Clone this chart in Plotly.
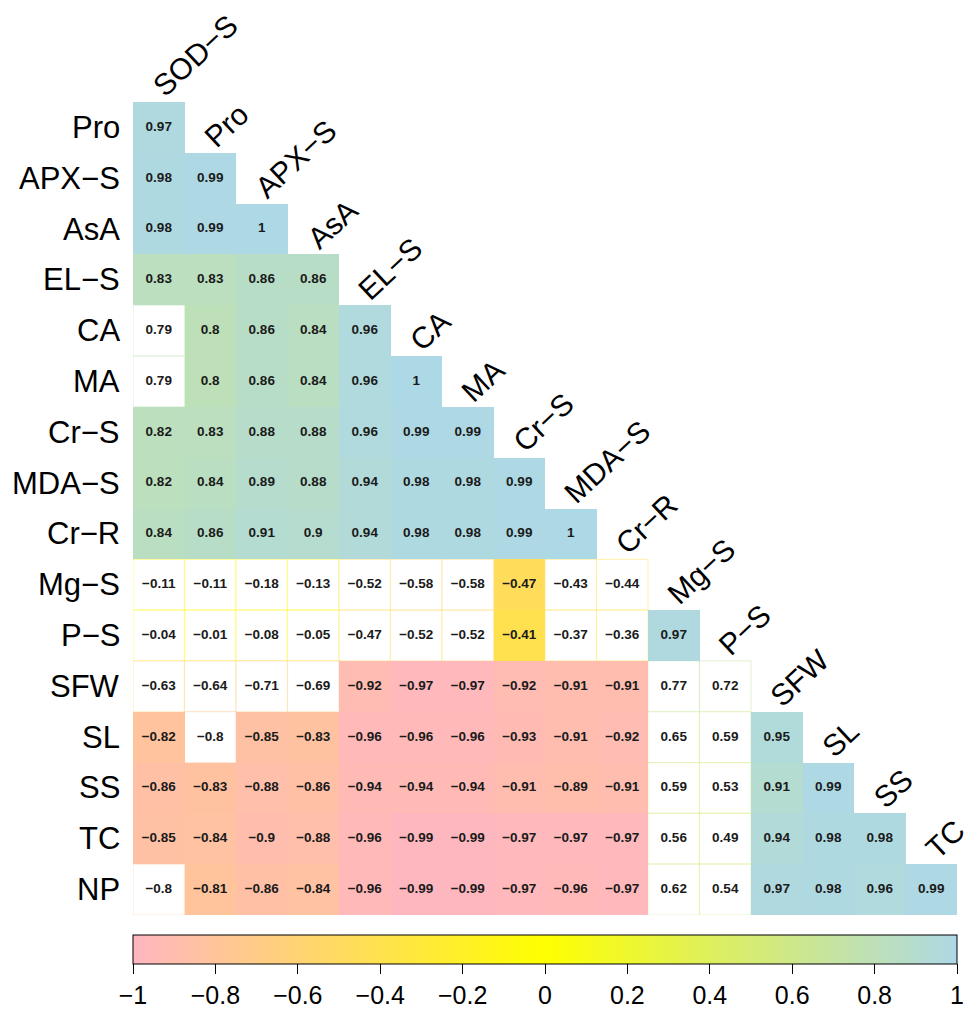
import plotly.graph_objects as go

# Variable names (lower-triangular correlation matrix)
variables = ["SOD−S", "Pro", "APX−S", "AsA", "EL−S", "CA", "MA", "Cr−S", "MDA−S",
             "Cr−R", "Mg−S", "P−S", "SFW", "SL", "SS", "TC", "NP"]
row_names = variables[1:]
col_names = variables[:-1]

# Correlation coefficients, one list per row (row i holds columns 0..i)
r_pro = [0.97]
r_apx = [0.98, 0.99]
r_asa = [0.98, 0.99, 1]
r_el = [0.83, 0.83, 0.86, 0.86]
r_ca = [0.79, 0.8, 0.86, 0.84, 0.96]
r_ma = [0.79, 0.8, 0.86, 0.84, 0.96, 1]
r_crs = [0.82, 0.83, 0.88, 0.88, 0.96, 0.99, 0.99]
r_mda = [0.82, 0.84, 0.89, 0.88, 0.94, 0.98, 0.98, 0.99]
r_crr = [0.84, 0.86, 0.91, 0.9, 0.94, 0.98, 0.98, 0.99, 1]
r_mg = [-0.11, -0.11, -0.18, -0.13, -0.52, -0.58, -0.58, -0.47, -0.43, -0.44]
r_p = [-0.04, -0.01, -0.08, -0.05, -0.47, -0.52, -0.52, -0.41, -0.37, -0.36, 0.97]
r_sfw = [-0.63, -0.64, -0.71, -0.69, -0.92, -0.97, -0.97, -0.92, -0.91, -0.91, 0.77, 0.72]
r_sl = [-0.82, -0.8, -0.85, -0.83, -0.96, -0.96, -0.96, -0.93, -0.91, -0.92, 0.65, 0.59, 0.95]
r_ss = [-0.86, -0.83, -0.88, -0.86, -0.94, -0.94, -0.94, -0.91, -0.89, -0.91, 0.59, 0.53, 0.91, 0.99]
r_tc = [-0.85, -0.84, -0.9, -0.88, -0.96, -0.99, -0.99, -0.97, -0.97, -0.97, 0.56, 0.49, 0.94, 0.98, 0.98]
r_np = [-0.8, -0.81, -0.86, -0.84, -0.96, -0.99, -0.99, -0.97, -0.96, -0.97, 0.62, 0.54, 0.97, 0.98, 0.96, 0.99]
corr_rows = [r_pro, r_apx, r_asa, r_el, r_ca, r_ma, r_crs, r_mda, r_crr,
             r_mg, r_p, r_sfw, r_sl, r_ss, r_tc, r_np]

# Non-significant cells (row, col) left blank
blank_cells = [(4, 0), (5, 0)]
blank_cells += [(9, c) for c in [0, 1, 2, 3, 4, 5, 6, 8, 9]]
blank_cells += [(10, c) for c in [0, 1, 2, 3, 4, 5, 6, 8, 9]]
blank_cells += [(11, c) for c in [0, 1, 2, 3, 10, 11]]
blank_cells += [(12, c) for c in [1, 10, 11]]
blank_cells += [(13, c) for c in [10, 11]]
blank_cells += [(14, c) for c in [10, 11]]
blank_cells += [(15, c) for c in [0, 10, 11]]

# Colour bar ticks
tick_vals = [-1, -0.8, -0.6, -0.4, -0.2, 0, 0.2, 0.4, 0.6, 0.8, 1]
tick_text = [f"{v:g}".replace("-", "−") for v in tick_vals]

colorscale = [[0.0, "#FFB6C1"], [0.5, "#FFFF00"], [1.0, "#ADD8E6"]]
FONT = "Liberation Sans, Arial, Helvetica, sans-serif"

n = len(row_names)
blank_set = set(blank_cells)


def scale_color(v, alpha=1.0):
    """Interpolate the colour scale at correlation v in [-1, 1]."""
    t = (v + 1) / 2
    for (t0, c0), (t1, c1) in zip(colorscale[:-1], colorscale[1:]):
        if t0 <= t <= t1:
            f = (t - t0) / (t1 - t0) if t1 > t0 else 0
            a = [int(c0[k:k + 2], 16) for k in (1, 3, 5)]
            b = [int(c1[k:k + 2], 16) for k in (1, 3, 5)]
            rgb = [round(a[k] + (b[k] - a[k]) * f) for k in range(3)]
            return f"rgba({rgb[0]},{rgb[1]},{rgb[2]},{alpha})"
    return colorscale[-1][1]


# Heatmap matrix: significant cells only
z = [[None] * n for _ in range(n)]
for i, row in enumerate(corr_rows):
    for j, v in enumerate(row):
        if (i, j) not in blank_set:
            z[i][j] = v

fig = go.Figure()
fig.add_trace(go.Heatmap(
    z=z, x=list(range(n)), y=list(range(n)),
    colorscale=colorscale, zmin=-1, zmax=1,
    hoverongaps=False, xgap=0, ygap=0,
    colorbar=dict(
        orientation="h", x=0.5, xanchor="center",
        y=-0.0244, yanchor="top",
        len=824, lenmode="pixels", thickness=29, thicknessmode="pixels",
        xpad=0, ypad=0,
        outlinewidth=1, outlinecolor="black",
        ticks="outside", ticklen=10, tickwidth=1, tickcolor="black",
        tickvals=tick_vals, ticktext=tick_text,
        tickfont=dict(family=FONT, size=25, color="black"),
    ),
))

# Blank cells: white fill with a faint outline in the scale colour
shapes = []
for i, row in enumerate(corr_rows):
    for j, v in enumerate(row):
        if (i, j) in blank_set:
            shapes.append(dict(
                type="rect", xref="x", yref="y",
                x0=j - 0.5, x1=j + 0.5, y0=i - 0.5, y1=i + 0.5,
                fillcolor="white", line=dict(color=scale_color(v, 0.42), width=1.2),
                layer="below",
            ))

# Coefficient labels
tx, ty, tt = [], [], []
for i, row in enumerate(corr_rows):
    for j, v in enumerate(row):
        tx.append(j)
        ty.append(i)
        tt.append(f"{v:g}".replace("-", "−"))
fig.add_trace(go.Scatter(
    x=tx, y=ty, text=tt, mode="text",
    textfont=dict(family=FONT, size=13.5, color="#1a1a1a", weight="bold"),
    hoverinfo="skip", showlegend=False,
))

annotations = []
for i, name in enumerate(row_names):
    annotations.append(dict(
        text=name, x=-0.5, y=i, xref="x", yref="y",
        xanchor="right", yanchor="middle", xshift=-11, showarrow=False,
        font=dict(family=FONT, size=31, color="black"),
    ))
for j, name in enumerate(col_names):
    annotations.append(dict(
        text=name, x=j, y=j - 0.5, xref="x", yref="y",
        xanchor="left", yanchor="bottom", textangle=-43,
        xshift=-14, yshift=-2, borderpad=0, showarrow=False,
        font=dict(family=FONT, size=30, color="black"),
    ))

fig.update_layout(
    width=971, height=1022,
    margin=dict(l=133, r=14, t=102, b=100),
    paper_bgcolor="white", plot_bgcolor="white",
    xaxis=dict(range=[-0.5, n - 0.5], visible=False, fixedrange=True),
    yaxis=dict(range=[n - 0.5, -0.5], visible=False, fixedrange=True),
    shapes=shapes, annotations=annotations,
    showlegend=False,
)

fig.write_html("out.html")
